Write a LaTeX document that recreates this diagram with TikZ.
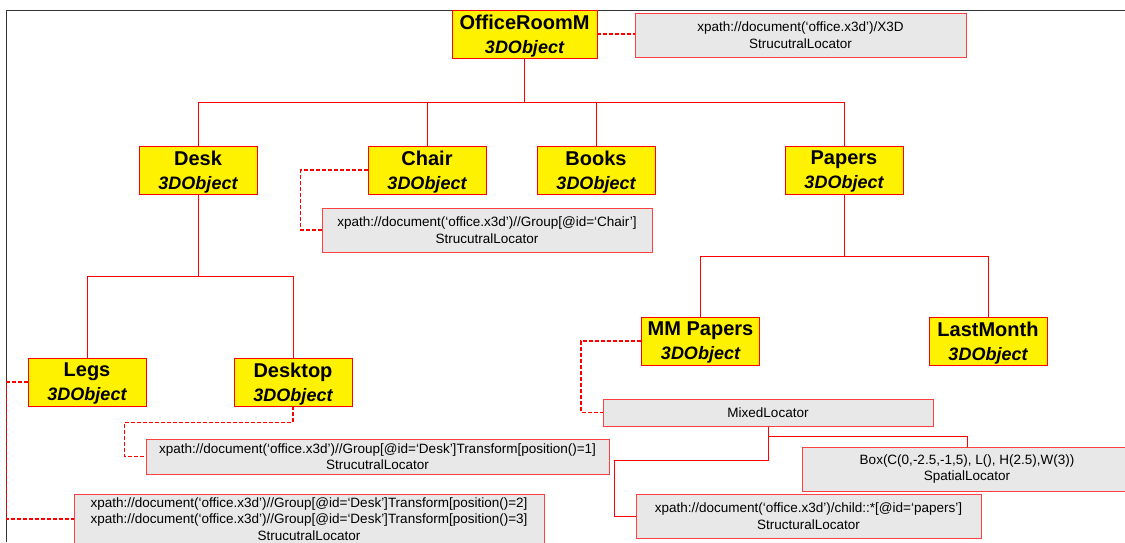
\documentclass[tikz,border=0pt]{standalone}
\usepackage{fontspec}
\setmainfont{Liberation Sans}
\newcommand{\objtype}{{\fontsize{18}{24}\selectfont\itshape 3DObject}}
\begin{document}
\begin{tikzpicture}[x=1pt,y=-1pt,
    obj/.style={draw=red,line width=0.9pt,fill=yellow,minimum width=118,minimum height=48,inner sep=0pt,text depth=0pt,align=center,font=\fontsize{20}{24}\selectfont\bfseries},
    loc/.style={draw=red!75,line width=1pt,fill=gray!18,inner sep=0pt,align=center,font=\fontsize{13.5}{16.5}\selectfont},
    tree/.style={draw=red,line width=0.9pt},
    link/.style={draw=red,line width=1.5pt,dash pattern=on 4pt off 2pt}]
    \useasboundingbox (0,0) rectangle (1125,542);
    \draw[gray!40!black,line width=0.8pt] (6,542) -- (6,10) -- (1125,10);

    \node[obj,minimum width=145] (room) at (524.5,34) {OfficeRoomM\\\objtype};
    \node[loc,minimum width=331,minimum height=44] (Lroom) at (800.5,35) {xpath://document(‘office.x3d’)/X3D\\StrucutralLocator};
    \node[obj] (desk) at (198,170) {Desk\\\objtype};
    \node[obj] (chair) at (427,170) {Chair\\\objtype};
    \node[obj] (books) at (596,170) {Books\\\objtype};
    \node[obj] (papers) at (844,170) {Papers\\\objtype};
    \node[loc,minimum width=330,minimum height=44] (Lchair) at (487,230) {xpath://document(‘office.x3d’)//Group[@id=‘Chair’]\\StrucutralLocator};
    \node[obj] (legs) at (87,382) {Legs\\\objtype};
    \node[obj] (desktop) at (293,382) {Desktop\\\objtype};
    \node[obj] (mm) at (700.5,341) {MM Papers\\\objtype};
    \node[obj] (last) at (988,341) {LastMonth\\\objtype};
    \node[loc,minimum width=463,minimum height=35] (Ldesktop) at (377.5,456.5) {xpath://document(‘office.x3d’)//Group[@id=‘Desk’]Transform[position()=1]\\StrucutralLocator};
    \node[loc,minimum width=470,minimum height=50] (Llegs) at (309,519) {xpath://document(‘office.x3d’)//Group[@id=‘Desk’]Transform[position()=2]\\xpath://document(‘office.x3d’)//Group[@id=‘Desk’]Transform[position()=3]\\StrucutralLocator};
    \node[loc,minimum width=330,minimum height=27] (mixed) at (768,412.5) {MixedLocator};
    \node[loc,minimum width=330,minimum height=44] (spatial) at (967,469) {Box(C(0,-2.5,-1,5), L(), H(2.5),W(3))\\SpatialLocator};
    \node[loc,minimum width=345,minimum height=44] (struct) at (808.5,516) {xpath://document(‘office.x3d’)/child::*[@id=‘papers’]\\StructuralLocator};

    \draw[tree] (room.south) -- ++(0,44) coordinate (roombus);
    \foreach \n in {desk,chair,books,papers} \draw[tree] (roombus) -| (\n.north);
    \draw[tree] (desk.south) -- ++(0,82) coordinate (deskbus);
    \foreach \n in {legs,desktop} \draw[tree] (deskbus) -| (\n.north);
    \draw[tree] (papers.south) -- ++(0,62) coordinate (paperbus);
    \foreach \n in {mm,last} \draw[tree] (paperbus) -| (\n.north);
    \draw[tree] (mixed.south) -- ++(0,10) coordinate (mixbus) -| (spatial.north);
    \draw[tree] (mixbus) -- ++(0,24) -| ([xshift=-21pt]struct.west) -- (struct.west);

    \draw[link] (room.east) -- (room.east -| Lroom.west);
    \draw[link] (chair.west) -- ++(-67,0) |- (Lchair.west);
    \draw[link] (desktop.south) -- ++(0,16) -| ([xshift=-21pt]Ldesktop.west) -- (Ldesktop.west);
    \draw[link] (legs.west) -- ++(-21,0) |- (Llegs.west);
    \draw[link] (mm.west) -- ++(-60,0) |- (mixed.west);
\end{tikzpicture}
\end{document}
